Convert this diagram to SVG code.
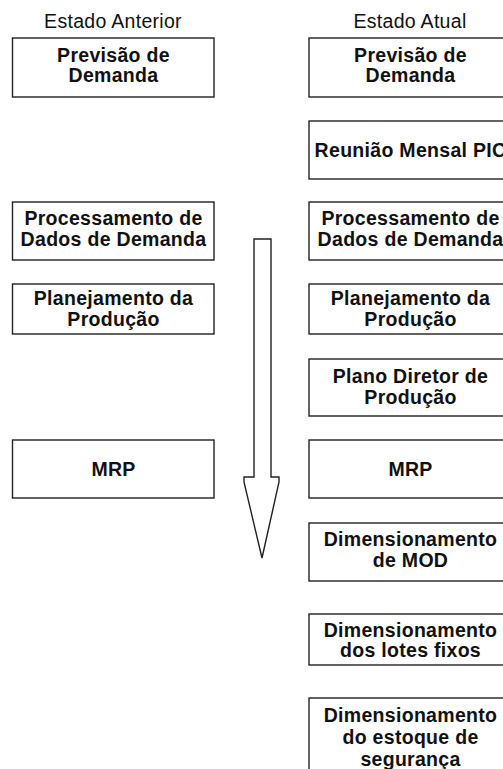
<svg xmlns="http://www.w3.org/2000/svg" width="503" height="769" viewBox="0 0 503 769">
<style>
.box{fill:#fff;stroke:#222;stroke-width:1.4}
.t{font-family:"Liberation Sans",Arial,sans-serif;font-weight:bold;font-size:19.5px;letter-spacing:0.3px;text-anchor:middle;fill:#111}
.h{font-family:"Liberation Sans",Arial,sans-serif;font-size:19.5px;letter-spacing:0.3px;text-anchor:middle;fill:#111}
</style>
<rect width="503" height="769" fill="#fff"/>
<text class="h" x="113" y="28">Estado Anterior</text>
<text class="h" x="410" y="28">Estado Atual</text>

<g id="connectors">
<polygon points="254,239 271,239 271,477 279,477 279,482 262,558 244,482 244,477 254,477" fill="#fff" stroke="#222" stroke-width="1.4"/>
</g>

<g id="a1"><rect class="box" x="12.5" y="38" width="201.5" height="59"/>
<text class="t" x="113.5" y="62">Previsão de</text><text class="t" x="113.5" y="82">Demanda</text></g>
<g id="a2"><rect class="box" x="12.5" y="202" width="201.5" height="58"/>
<text class="t" x="113.5" y="225">Processamento de</text><text class="t" x="113.5" y="246">Dados de Demanda</text></g>
<g id="a3"><rect class="box" x="12.5" y="284" width="201.5" height="50"/>
<text class="t" x="113.5" y="305">Planejamento da</text><text class="t" x="113.5" y="326">Produção</text></g>
<g id="a4"><rect class="box" x="12.5" y="440" width="201.5" height="58"/>
<text class="t" x="113.5" y="476">MRP</text></g>

<g id="b1"><rect class="box" x="309" y="38" width="204" height="59"/>
<text class="t" x="410.5" y="62">Previsão de</text><text class="t" x="410.5" y="82">Demanda</text></g>
<g id="b2"><rect class="box" x="309" y="121" width="204" height="58"/>
<text class="t" x="410.5" y="157">Reunião Mensal PIC</text></g>
<g id="b3"><rect class="box" x="309" y="202" width="204" height="58"/>
<text class="t" x="410.5" y="225">Processamento de</text><text class="t" x="410.5" y="246">Dados de Demanda</text></g>
<g id="b4"><rect class="box" x="309" y="284" width="204" height="50"/>
<text class="t" x="410.5" y="305">Planejamento da</text><text class="t" x="410.5" y="326">Produção</text></g>
<g id="b5"><rect class="box" x="309" y="359" width="204" height="57"/>
<text class="t" x="410.5" y="383">Plano Diretor de</text><text class="t" x="410.5" y="404">Produção</text></g>
<g id="b6"><rect class="box" x="309" y="440" width="204" height="58"/>
<text class="t" x="410.5" y="476">MRP</text></g>
<g id="b7"><rect class="box" x="309" y="523" width="204" height="58"/>
<text class="t" x="410.5" y="546">Dimensionamento</text><text class="t" x="410.5" y="567">de MOD</text></g>
<g id="b8"><rect class="box" x="309" y="614" width="204" height="51"/>
<text class="t" x="410.5" y="637">Dimensionamento</text><text class="t" x="410.5" y="657">dos lotes fixos</text></g>
<g id="b9"><rect class="box" x="309" y="698" width="204" height="80"/>
<text class="t" x="410.5" y="722">Dimensionamento</text><text class="t" x="410.5" y="744">do estoque de</text><text class="t" x="410.5" y="766">segurança</text></g>
</svg>
